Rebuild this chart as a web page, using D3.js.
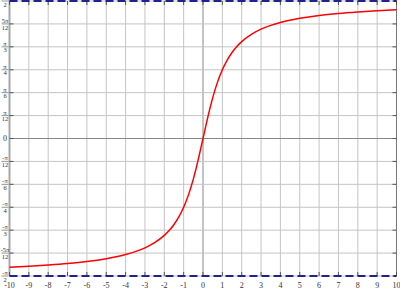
<!DOCTYPE html>
<html><head><meta charset="utf-8">
<script src="https://cdn.jsdelivr.net/npm/d3@7"></script>
<style>body{margin:0;background:#fff}svg{display:block}</style>
</head><body><svg id="c" width="400" height="289"></svg>
<script>
// Curve points (x, y in radians)
const curveX = [-10,-9,-8,-7,-6,-5,-4,-3.5,-3,-2.5,-2,-1.75,-1.5,-1.25,-1,-0.75,-0.5,-0.25,0,0.25,0.5,0.75,1,1.25,1.5,1.75,2,2.5,3,3.5,4,5,6,7,8,9,10];
const curveY = [-1.471,-1.460,-1.446,-1.429,-1.406,-1.373,-1.326,-1.292,-1.249,-1.190,-1.107,-1.052,-0.983,-0.896,-0.785,-0.644,-0.464,-0.245,0,0.245,0.464,0.644,0.785,0.896,0.983,1.052,1.107,1.190,1.249,1.292,1.326,1.373,1.406,1.429,1.446,1.460,1.471];
const xTicks = [-10,-9,-8,-7,-6,-5,-4,-3,-2,-1,0,1,2,3,4,5,6,7,8,9,10];
// y ticks in units of pi/12
const yTickK = [-6,-5,-4,-3,-2,-1,0,1,2,3,4,5,6];
const yTickNum = ["-π","-5π","-π","-π","-π","-π","0","π","π","π","π","5π","π"];
const yTickDen = ["2","12","3","4","6","12","","12","6","4","3","12","2"];
const asymptotes = [-Math.PI/2, Math.PI/2];

const svg = d3.select("#c");
const x = d3.scaleLinear().domain([-10,10]).range([9.5,396.5]);
const y = d3.scaleLinear().domain([-Math.PI/2, Math.PI/2]).range([276, 1]);
const yv = k => k*Math.PI/12;

// grid
svg.append("g").selectAll("line").data(xTicks).join("line")
  .attr("x1",d=>x(d)).attr("x2",d=>x(d)).attr("y1",y(Math.PI/2)).attr("y2",y(-Math.PI/2))
  .attr("stroke",d=>d===0?"#888":"#c4c4c4").attr("stroke-width",1);
svg.append("g").selectAll("line").data(yTickK).join("line")
  .attr("x1",x(-10)).attr("x2",x(10)).attr("y1",d=>y(yv(d))).attr("y2",d=>y(yv(d)))
  .attr("stroke",d=>d===0?"#888":"#c4c4c4").attr("stroke-width",1);

// frame
svg.append("line").attr("x1",x(-10)).attr("x2",x(-10)).attr("y1",0).attr("y2",y(-Math.PI/2))
  .attr("stroke","#a8a8a8").attr("stroke-width",2);
svg.append("line").attr("x1",x(10)).attr("x2",x(10)).attr("y1",0).attr("y2",y(-Math.PI/2))
  .attr("stroke","#777").attr("stroke-width",1);

// ticks
const tk = svg.append("g").attr("stroke","#555").attr("stroke-width",1);
tk.selectAll(".tb").data(xTicks).join("line").attr("class","tb")
  .attr("x1",d=>x(d)).attr("x2",d=>x(d)).attr("y1",y(-Math.PI/2)).attr("y2",y(-Math.PI/2)-4);
tk.selectAll(".tt").data(xTicks).join("line").attr("class","tt")
  .attr("x1",d=>x(d)).attr("x2",d=>x(d)).attr("y1",y(Math.PI/2)).attr("y2",y(Math.PI/2)+4);
tk.selectAll(".tl").data(yTickK).join("line").attr("class","tl")
  .attr("x1",x(-10)).attr("x2",x(-10)+4).attr("y1",d=>y(yv(d))).attr("y2",d=>y(yv(d)));
tk.selectAll(".tr").data(yTickK).join("line").attr("class","tr")
  .attr("x1",x(10)).attr("x2",x(10)-4).attr("y1",d=>y(yv(d))).attr("y2",d=>y(yv(d)));

// asymptotes
svg.append("g").selectAll("line").data(asymptotes).join("line")
  .attr("x1",x(-10)).attr("x2",x(10)).attr("y1",d=>y(d)).attr("y2",d=>y(d))
  .attr("stroke","#22228c").attr("stroke-width",2.2).attr("stroke-dasharray","8,4");

// curve
const pts = curveX.map((v,i)=>[v,curveY[i]]);
svg.append("path").datum(pts)
  .attr("d", d3.line().x(d=>x(d[0])).y(d=>y(d[1])).curve(d3.curveMonotoneX))
  .attr("fill","none").attr("stroke","#f00").attr("stroke-width",1.5);

// x labels
svg.append("g").selectAll("text").data(xTicks).join("text")
  .attr("x",d=>x(d)).attr("y",287.5).attr("text-anchor","middle")
  .attr("font-family","Liberation Serif, serif").attr("font-size",8).attr("fill","#333")
  .text(d=>d);

// y labels (fractions)
const yl = svg.append("g").attr("font-family","Liberation Serif, serif").attr("font-size",6.5).attr("fill","#333");
yTickK.forEach((k,i)=>{
  const yy = y(yv(k));
  if (yTickDen[i]==="") {
    yl.append("text").attr("x",5).attr("y",yy+2.7).attr("text-anchor","middle").attr("font-size",8).text(yTickNum[i]);
    return;
  }
  yl.append("text").attr("x",5).attr("y",yy-1).attr("text-anchor","middle").text(yTickNum[i]);
  yl.append("text").attr("x",5).attr("y",yy+5.6).attr("text-anchor","middle").text(yTickDen[i]);
  yl.append("line").attr("x1",1.5).attr("x2",8.5).attr("y1",yy).attr("y2",yy).attr("stroke","#666").attr("stroke-width",0.7);
});
</script></body></html>
